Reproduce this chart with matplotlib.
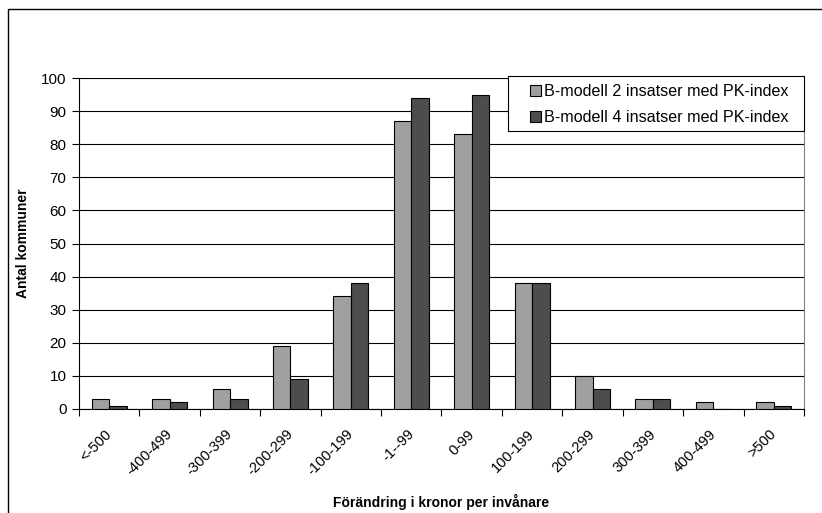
import numpy as np
import matplotlib.pyplot as plt
from matplotlib.patches import Rectangle

plt.rcParams['font.family'] = ['Liberation Sans', 'DejaVu Sans']

# Data
categories = ['<-500', '-400-499', '-300-399', '-200-299', '-100-199', '-1--99',
              '0-99', '100-199', '200-299', '300-399', '400-499', '>500']
modell2 = [3, 3, 6, 19, 34, 87, 83, 38, 10, 3, 2, 2]
modell4 = [1, 2, 3, 9, 38, 94, 95, 38, 6, 3, 0, 1]
series_names = ['B-modell 2 insatser med PK-index', 'B-modell 4 insatser med PK-index']

fig = plt.figure(figsize=(8.22, 5.13), dpi=100)
ax = fig.add_axes([79 / 822, 1 - 409 / 513, (804 - 79) / 822, (409 - 78) / 513])

# outer chart border
fig.patches.append(Rectangle((8 / 822, -0.1), 2, 1.1 - 9 / 513, transform=fig.transFigure,
                             fill=False, edgecolor='black', linewidth=1.0))

x = np.arange(len(categories))
w = 0.29
ax.bar(x - w / 2, modell2, w, color='#a0a0a0', edgecolor='black', linewidth=0.8,
       label=series_names[0], zorder=3)
ax.bar(x + w / 2, modell4, w, color='#4d4d4d', edgecolor='black', linewidth=0.8,
       label=series_names[1], zorder=3)

ax.set_xlim(-0.5, len(categories) - 0.5)
ax.set_ylim(0, 100)
ax.set_yticks(range(0, 101, 10))
ax.yaxis.grid(True, color='black', linewidth=0.8, zorder=0)

# rotated labels sit a little left of the category centre, like Excel
ax.set_xticks(x - 0.075)
ax.set_xticklabels(categories, rotation=45, ha='right', va='top', rotation_mode='anchor',
                   fontsize=10.5)
ax.set_xticks(np.arange(-0.5, len(categories), 1), minor=True)
ax.tick_params(axis='x', which='major', length=0, pad=13)
ax.tick_params(axis='x', which='minor', length=5, direction='out', width=0.8)
ax.tick_params(axis='y', length=5, direction='out', width=0.8, labelsize=11, pad=4)

ax.spines['top'].set_visible(False)
ax.spines['right'].set_color('#808080')
ax.spines['left'].set_linewidth(0.8)
ax.spines['bottom'].set_linewidth(0.8)

ax.set_ylabel('Antal kommuner', fontsize=10, fontweight='bold', labelpad=8)
ax.set_xlabel('Förändring i kronor per invånare', fontsize=10, fontweight='bold', labelpad=11)

# legend contents without frame, frame drawn separately (Excel-like padding)
leg = ax.legend(loc='center left', bbox_to_anchor=((530 - 79) / 725, (409 - 104.5) / 331),
                borderaxespad=0, borderpad=0, fontsize=11.6, frameon=False,
                handlelength=0.7, handleheight=0.7, handletextpad=0.15, labelspacing=0.7)
leg.set_zorder(6)
ax.add_patch(Rectangle(((508 - 79) / 725, (409 - 131) / 331), (804 - 508) / 725, 55 / 331,
                       transform=ax.transAxes, facecolor='white', edgecolor='black',
                       linewidth=0.8, zorder=5, clip_on=False))

fig.savefig('out.png', dpi=100)
